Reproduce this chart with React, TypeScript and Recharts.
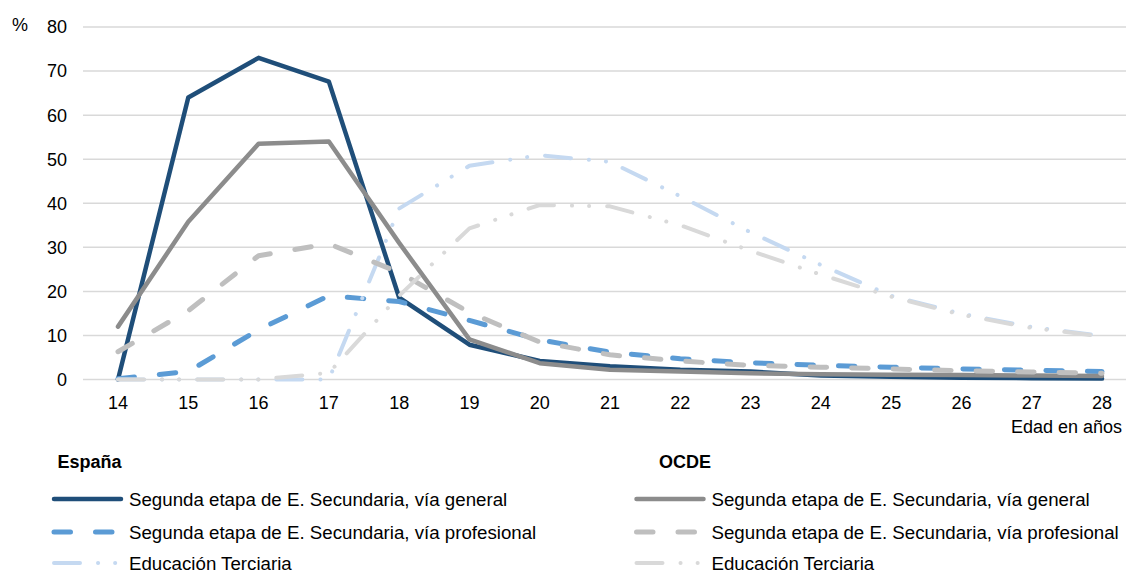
import React from "react";
import { CartesianGrid, Line, LineChart, XAxis, YAxis } from "recharts";

// Edad en años
const AGES = ["14", "15", "16", "17", "18", "19", "20", "21", "22", "23", "24", "25", "26", "27", "28"];

// España
const ESP_GENERAL = [0, 64.0, 73.0, 67.6, 18.6, 7.9, 4.2, 3.0, 2.2, 1.8, 0.9, 0.6, 0.4, 0.3, 0.2];
const ESP_PROFESIONAL = [0.2, 1.8, 11.3, 19.0, 17.7, 13.4, 9.0, 6.2, 4.7, 3.8, 3.2, 2.8, 2.4, 2.1, 1.8];
const ESP_TERCIARIA = [0, 0, 0, 0, 38.8, 48.5, 50.9, 49.4, 41.6, 33.4, 26.0, 19.0, 14.9, 11.9, 9.9];

// OCDE
const OCDE_GENERAL = [12.0, 35.8, 53.5, 54.0, 31.0, 9.1, 3.7, 2.2, 1.8, 1.4, 1.2, 1.1, 1.0, 0.9, 0.8];
const OCDE_PROFESIONAL = [6.3, 15.6, 28.1, 30.8, 24.3, 15.2, 8.5, 5.6, 4.2, 3.2, 2.8, 2.4, 2.0, 1.7, 1.4];
const OCDE_TERCIARIA = [0, 0, 0, 1.5, 19.0, 34.3, 39.6, 39.3, 35.0, 29.2, 23.8, 18.8, 14.7, 11.7, 9.8];

const Y_TICKS = [0, 10, 20, 30, 40, 50, 60, 70, 80];

const LABEL_GENERAL = "Segunda etapa de E. Secundaria, vía general";
const LABEL_PROFESIONAL = "Segunda etapa de E. Secundaria, vía profesional";
const LABEL_TERCIARIA = "Educación Terciaria";

const PROF_DASH = "16.5 25";
const TERC_DASH = "26 18 0.1 17 0.1 18";

const FONT = "'Liberation Sans', Arial, sans-serif";

type Series = {
  key: string;
  label: string;
  color: string;
  width: number;
  dash?: string;
};

const ESP_SERIES: Series[] = [
  { key: "espGeneral", label: LABEL_GENERAL, color: "#1F4E79", width: 4.5 },
  { key: "espProfesional", label: LABEL_PROFESIONAL, color: "#5B9BD5", width: 5, dash: PROF_DASH },
  { key: "espTerciaria", label: LABEL_TERCIARIA, color: "#C5D9F1", width: 4, dash: TERC_DASH },
];

const OCDE_SERIES: Series[] = [
  { key: "ocdeGeneral", label: LABEL_GENERAL, color: "#8C8C8C", width: 4.5 },
  { key: "ocdeProfesional", label: LABEL_PROFESIONAL, color: "#BFBFBF", width: 5, dash: PROF_DASH },
  { key: "ocdeTerciaria", label: LABEL_TERCIARIA, color: "#D9D9D9", width: 4, dash: TERC_DASH },
];

const data = AGES.map((age, i) => ({
  age,
  espGeneral: ESP_GENERAL[i],
  espProfesional: ESP_PROFESIONAL[i],
  espTerciaria: ESP_TERCIARIA[i],
  ocdeGeneral: OCDE_GENERAL[i],
  ocdeProfesional: OCDE_PROFESIONAL[i],
  ocdeTerciaria: OCDE_TERCIARIA[i],
}));

// legend row centres, relative to the legend box top (y = 440)
const ROWS = [59, 92, 123];

function LegendColumn({ title, titleX, series, x }: { title: string; titleX: number; series: Series[]; x: number }) {
  return (
    <g>
      <text x={titleX} y={28} fontSize={18} fontWeight="bold" fill="#000">
        {title}
      </text>
      {series.map((s, i) => {
        const cy = ROWS[i];
        return (
          <g key={s.key}>
            <line
              x1={x + 2.5}
              x2={x + 69.5}
              y1={cy}
              y2={cy}
              stroke={s.color}
              strokeWidth={s.width}
              strokeDasharray={s.dash}
              strokeLinecap="round"
            />
            <text x={x + 77.5} y={cy + 7} fontSize={18.7} fill="#000">
              {s.label}
            </text>
          </g>
        );
      })}
    </g>
  );
}

export default function App() {
  const all = [...ESP_SERIES, ...OCDE_SERIES];
  return (
    <div style={{ position: "absolute", left: 0, top: 0, width: 1126, height: 574, fontFamily: FONT }}>
      <LineChart width={1126} height={574} data={data} margin={{ top: 27, right: 0, left: 0, bottom: 164.5 }}>
        <CartesianGrid vertical={false} stroke="#D9D9D9" strokeWidth={1.5} />
        <XAxis
          dataKey="age"
          axisLine={false}
          tickLine={false}
          interval={0}
          padding={{ left: 35, right: 24 }}
          tickMargin={11}
          height={30}
          tick={{ fontSize: 18, fill: "#000", fontFamily: FONT }}
          label={{
            content: () => (
              <text x={1122} y={433} textAnchor="end" fontSize={18} fill="#000" fontFamily={FONT}>
                Edad en años
              </text>
            ),
          }}
        />
        <YAxis
          width={83}
          domain={[0, 80]}
          ticks={Y_TICKS}
          axisLine={false}
          tickLine={false}
          tickMargin={10}
          tick={{ fontSize: 18, fill: "#000", fontFamily: FONT }}
          label={{
            content: () => (
              <text x={12} y={31} fontSize={18} fill="#000" fontFamily={FONT}>
                %
              </text>
            ),
          }}
        />
        {all.map((s) => (
          <Line
            key={s.key}
            dataKey={s.key}
            name={s.label}
            type="linear"
            stroke={s.color}
            strokeWidth={s.width}
            strokeDasharray={s.dash}
            strokeLinecap="round"
            strokeLinejoin="round"
            dot={false}
            activeDot={false}
            isAnimationActive={false}
          />
        ))}
      </LineChart>
      <svg
        width={1126}
        height={134}
        style={{ position: "absolute", left: 0, top: 440, fontFamily: FONT }}
      >
        <LegendColumn title="España" titleX={57.5} series={ESP_SERIES} x={51.5} />
        <LegendColumn title="OCDE" titleX={659} series={OCDE_SERIES} x={634} />
      </svg>
    </div>
  );
}
